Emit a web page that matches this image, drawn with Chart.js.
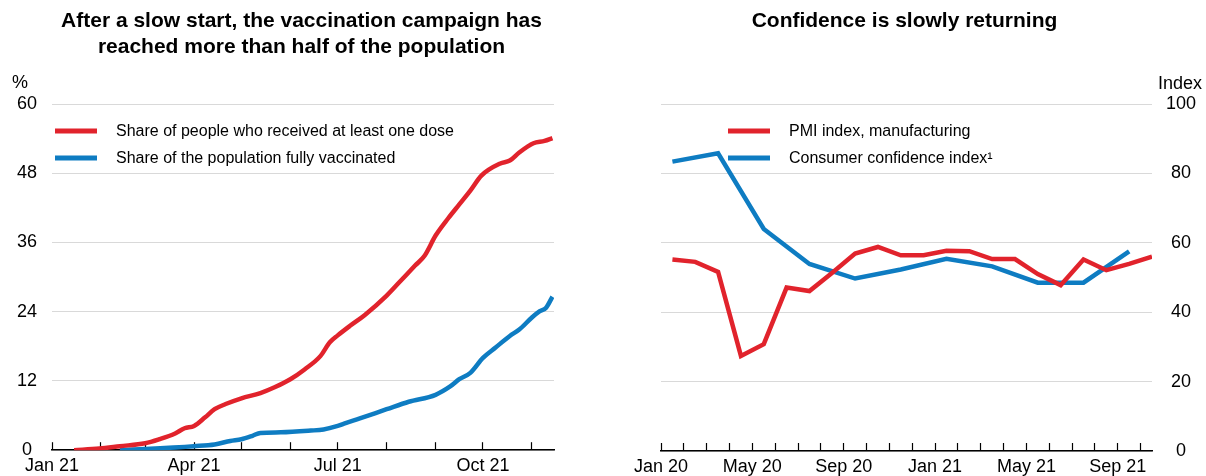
<!DOCTYPE html>
<html>
<head>
<meta charset="utf-8">
<script src="https://cdn.jsdelivr.net/npm/chart.js@4.4.0/dist/chart.umd.min.js"></script>
<style>
  body { margin: 0; background: #fff; font-family: "Liberation Sans", Arial, sans-serif; }
  #wrap { position: relative; width: 1206px; height: 476px; }
  canvas { position: absolute; top: 0; }
  .title { position: absolute; top: 7px; width: 603px; font-weight: bold; font-size: 21px; line-height: 26px; text-align: center; color: #000; }
  .unit { position: absolute; font-size: 18px; line-height: 20px; color: #000; }
</style>
</head>
<body>
<div id="wrap">
  <canvas id="chart-left" width="603" height="476" style="left:0"></canvas>
  <canvas id="chart-right" width="603" height="476" style="left:603px"></canvas>
  <div class="title" style="left:0">After a slow start, the vaccination campaign has<br>reached more than half of the population</div>
  <div class="title" style="left:603px">Confidence is slowly returning</div>
  <div class="unit" style="left:12px;top:72px">%</div>
  <div class="unit" style="left:1158px;top:73px">Index</div>
</div>
<script>
// left panel: vaccination, % of population (2021)
const doseDates = ["2021-01-15","2021-01-31","2021-02-13","2021-03-01","2021-03-10","2021-03-20","2021-03-26",
  "2021-04-01","2021-04-08","2021-04-14","2021-04-21","2021-05-01","2021-05-13","2021-05-22","2021-06-01",
  "2021-06-10","2021-06-20","2021-06-26","2021-07-01","2021-07-09","2021-07-18","2021-08-01","2021-08-09",
  "2021-08-19","2021-08-25","2021-09-01","2021-09-09","2021-09-16","2021-09-23","2021-09-30","2021-10-12",
  "2021-10-18","2021-10-24","2021-11-02","2021-11-09","2021-11-14"];
const doseShare = [0, 0.3, 0.7, 1.2, 1.9, 2.9, 3.8,
  4.2, 5.7, 7.1, 8.0, 9.0, 9.9, 10.9, 12.3,
  14.0, 16.3, 18.7, 19.9, 21.6, 23.4, 26.8, 29.1,
  32.0, 33.7, 37.2, 40.2, 42.6, 45.0, 47.6, 49.7,
  50.2, 51.6, 53.2, 53.6, 54.1];

const fullDates = ["2021-02-13","2021-03-01","2021-04-01","2021-04-14","2021-04-24","2021-05-01","2021-05-08",
  "2021-05-13","2021-05-26","2021-06-14","2021-06-22","2021-07-01","2021-07-05","2021-07-15","2021-08-01",
  "2021-08-15","2021-09-01","2021-09-10","2021-09-16","2021-09-23","2021-10-01","2021-10-09","2021-10-18",
  "2021-10-24","2021-11-01","2021-11-06","2021-11-10","2021-11-14"];
const fullShare = [0, 0.2, 0.7, 1.0, 1.6, 1.9, 2.5,
  3.0, 3.1, 3.4, 3.6, 4.2, 4.6, 5.5, 7.1,
  8.4, 9.6, 11.0, 12.3, 13.4, 16.0, 17.8, 19.8,
  20.9, 23.0, 24.1, 24.7, 26.6];

const leftMonthStarts = ["2021-01-01","2021-02-01","2021-03-01","2021-04-01","2021-05-01","2021-06-01",
  "2021-07-01","2021-08-01","2021-09-01","2021-10-01","2021-11-01"];
const leftMonthLabels = ["Jan 21","","","Apr 21","","","Jul 21","","","Oct 21",""];
const leftAxisEnd = "2021-11-15";
const leftYTicks = [0, 12, 24, 36, 48, 60];

// right panel: monthly indices
const months = ["Jan 20","Feb 20","Mar 20","Apr 20","May 20","Jun 20","Jul 20","Aug 20","Sep 20","Oct 20","Nov 20","Dec 20",
  "Jan 21","Feb 21","Mar 21","Apr 21","May 21","Jun 21","Jul 21","Aug 21","Sep 21","Oct 21"];
const monthLabels = ["Jan 20","May 20","Sep 20","Jan 21","May 21","Sep 21"];
const pmiMonths = months;
const pmiValues = [55.2, 54.5, 51.6, 27.4, 30.8, 47.1, 46.1, 51.4, 56.9, 58.8, 56.4, 56.4,
  57.7, 57.6, 55.3, 55.3, 51.0, 47.8, 55.2, 52.1, 53.9, 56.0];
const confMonths = ["Jan 20","Mar 20","May 20","Jul 20","Sep 20","Nov 20","Jan 21","Mar 21","May 21","Jul 21","Sep 21"];
const confValues = [83.4, 85.8, 64.0, 53.9, 49.7, 52.3, 55.4, 53.2, 48.5, 48.5, 57.5];
const rightYTicks = [0, 20, 40, 60, 80, 100];

const RED = "#e1232c";
const BLUE = "#0e7cc2";
const GRID = "#d9d9d9";
const FONT = '"Liberation Sans", Arial, sans-serif';

Chart.defaults.font.family = FONT;
Chart.defaults.color = "#000";

function dayOf(s) {
  const d = new Date(s + "T00:00:00Z");
  return (d - Date.UTC(2021, 0, 1)) / 86400000;
}
function monthPos(m) {
  return months.indexOf(m) + 0.5; // monthly values sit mid-month
}

// legend drawn inside the plot area
const legendInside = {
  id: "legendInside",
  afterDraw(chart, args, opts) {
    const ctx = chart.ctx;
    ctx.save();
    ctx.font = "16px " + FONT;
    ctx.textBaseline = "middle";
    chart.data.datasets.forEach((ds, i) => {
      const y = opts.y + i * 27;
      ctx.strokeStyle = ds.borderColor;
      ctx.lineWidth = 5;
      ctx.lineCap = "butt";
      ctx.beginPath();
      ctx.moveTo(opts.x, y);
      ctx.lineTo(opts.x + 42, y);
      ctx.stroke();
      ctx.fillStyle = "#000";
      ctx.fillText(ds.label, opts.x + 61, y + 1);
    });
    ctx.restore();
  }
};

const xAxisBase = {
  type: "linear",
  grid: { drawOnChartArea: false, drawTicks: true, tickLength: -8, tickColor: "#000", tickWidth: 1.2 },
  border: { display: true, color: "#000", width: 1.5 },
  ticks: { autoSkip: false, maxRotation: 0, padding: 13, font: { size: 18 } }
};

// ---- left chart
const leftStarts = leftMonthStarts.map(dayOf);
new Chart(document.getElementById("chart-left").getContext("2d"), {
  type: "line",
  data: {
    datasets: [{
      label: "Share of people who received at least one dose",
      data: doseDates.map((d, i) => ({ x: dayOf(d), y: doseShare[i] })),
      borderColor: RED,
      borderWidth: 4.5,
      pointRadius: 0,
      cubicInterpolationMode: "monotone"
    }, {
      label: "Share of the population fully vaccinated",
      data: fullDates.map((d, i) => ({ x: dayOf(d), y: fullShare[i] })),
      borderColor: BLUE,
      borderWidth: 4.5,
      pointRadius: 0,
      cubicInterpolationMode: "monotone"
    }]
  },
  options: {
    responsive: false,
    animation: false,
    layout: { padding: { top: 104, right: 49, left: 0, bottom: 0 } },
    plugins: {
      legend: { display: false },
      tooltip: { enabled: false },
      legendInside: { x: 55, y: 131 }
    },
    scales: {
      x: Object.assign({}, xAxisBase, {
        min: 0,
        max: dayOf(leftAxisEnd),
        afterBuildTicks: s => { s.ticks = leftStarts.map(v => ({ value: v })); },
        ticks: Object.assign({}, xAxisBase.ticks, {
          callback: (v) => leftMonthLabels[leftStarts.indexOf(v)]
        }),
        afterFit: s => { s.height = 25; }
      }),
      y: {
        min: 0,
        max: 60,
        afterBuildTicks: s => { s.ticks = leftYTicks.map(v => ({ value: v })); },
        grid: { color: GRID, lineWidth: 1, drawTicks: false },
        border: { display: false },
        ticks: { crossAlign: "center", padding: 15, font: { size: 18 } },
        afterFit: s => { s.width = 52; }
      }
    }
  },
  plugins: [legendInside]
});

// ---- right chart
const rightStarts = months.map((m, i) => i);
new Chart(document.getElementById("chart-right").getContext("2d"), {
  type: "line",
  data: {
    datasets: [{
      label: "PMI index, manufacturing",
      data: pmiMonths.map((m, i) => ({ x: monthPos(m), y: pmiValues[i] })),
      borderColor: RED,
      borderWidth: 4.5,
      pointRadius: 0,
      tension: 0
    }, {
      label: "Consumer confidence index\u00b9",
      data: confMonths.map((m, i) => ({ x: monthPos(m), y: confValues[i] })),
      borderColor: BLUE,
      borderWidth: 4.5,
      pointRadius: 0,
      tension: 0
    }]
  },
  options: {
    responsive: false,
    animation: false,
    layout: { padding: { top: 104, right: 0, left: 58, bottom: 0 } },
    plugins: {
      legend: { display: false },
      tooltip: { enabled: false },
      legendInside: { x: 125, y: 131 }
    },
    scales: {
      x: Object.assign({}, xAxisBase, {
        min: 0,
        max: months.length - 0.5,
        afterBuildTicks: s => { s.ticks = rightStarts.map(v => ({ value: v })); },
        ticks: Object.assign({}, xAxisBase.ticks, {
          callback: (v) => monthLabels.includes(months[v]) ? months[v] : ""
        }),
        afterFit: s => { s.height = 25; }
      }),
      y: {
        position: "right",
        min: 0,
        max: 100,
        afterBuildTicks: s => { s.ticks = rightYTicks.map(v => ({ value: v })); },
        grid: { color: GRID, lineWidth: 1, drawTicks: false },
        border: { display: false },
        ticks: { crossAlign: "center", padding: 14, font: { size: 18 } },
        afterFit: s => { s.width = 54; }
      }
    }
  },
  plugins: [legendInside]
});
</script>
</body>
</html>
